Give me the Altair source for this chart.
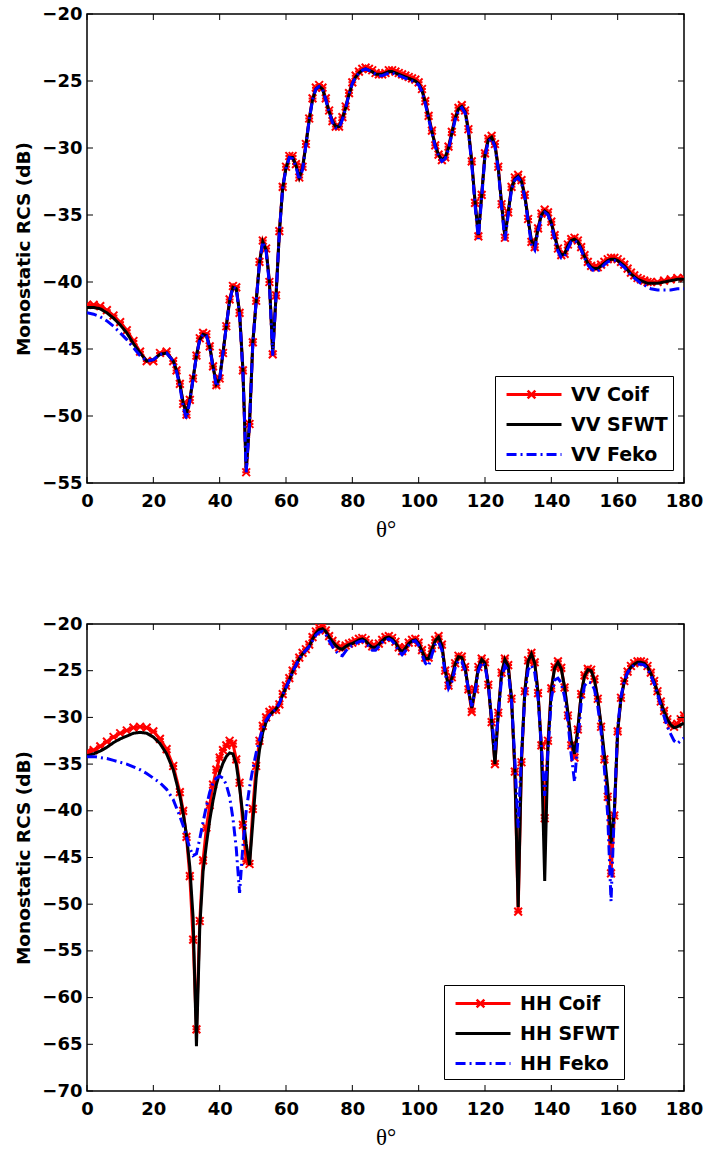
import altair as alt
import pandas as pd

# ---------------- data ----------------
X_TICKS = [0, 20, 40, 60, 80, 100, 120, 140, 160, 180]
VV_Y_TICKS = [-55, -50, -45, -40, -35, -30, -25, -20]
HH_Y_TICKS = [-70, -65, -60, -55, -50, -45, -40, -35, -30, -25, -20]

VV_NAMES = ["VV Coif", "VV SFWT", "VV Feko"]
HH_NAMES = ["HH Coif", "HH SFWT", "HH Feko"]

# sample angles (degrees)
vv_theta = list(range(0, 26, 2)) + list(range(26, 171)) + [172, 174, 176, 178, 180]
hh_theta = list(range(0, 28, 2)) + list(range(28, 181))

vv_sfwt = [-41.9, -41.9, -42.0, -42.3, -42.7, -43.2, -43.8, -44.6, -45.3, -45.9, -45.8, -45.4, -45.3,
    -45.9, -46.6, -47.6, -49.0, -49.8, -48.8, -47.2, -45.5, -44.3, -43.9,
    -44.0, -44.8, -46.3, -47.6, -47.2, -45.3, -43.3, -41.4, -40.4, -40.5,
    -42.3, -46.5, -54.0, -50.5, -44.5, -41.5, -38.6, -37.0, -37.6, -40.0,
    -45.3, -41.0, -36.3, -33.0, -31.5, -30.7, -30.7, -31.3, -32.2, -31.5,
    -29.8, -27.9, -26.4, -25.6, -25.4, -25.6, -26.4, -27.3, -28.0, -28.4,
    -28.4, -27.8, -27.0, -26.0, -25.2, -24.7, -24.4, -24.2, -24.1, -24.2,
    -24.3, -24.5, -24.5, -24.5, -24.4, -24.3, -24.3, -24.4, -24.5, -24.6,
    -24.7, -24.8, -24.9, -25.0, -25.2, -25.7, -26.6, -27.7, -28.8, -29.8,
    -30.5, -30.9, -30.7, -30.0, -28.9, -27.8, -27.1, -26.9, -27.3, -28.7,
    -31.0, -34.0, -36.5, -33.5, -30.5, -29.4, -29.2, -29.8, -31.5, -34.2,
    -36.6, -34.8, -33.0, -32.3, -32.1, -32.5, -33.6, -35.3, -36.9, -37.3,
    -36.0, -35.0, -34.7, -34.9, -35.6, -36.6, -37.5, -38.0, -37.9, -37.3,
    -36.9, -36.8, -37.0, -37.5, -38.1, -38.6, -38.9, -39.0, -39.0, -38.8,
    -38.6, -38.4, -38.3, -38.3, -38.4, -38.6, -38.8, -39.1, -39.4, -39.6,
    -39.8, -39.9, -40.0, -40.1, -40.1,
    -40.1, -40.0, -39.9, -39.8, -39.8]

vv_coif = [-41.7, -41.7, -41.8, -42.1, -42.5, -43.0, -43.6, -44.4, -45.2, -45.9, -45.9, -45.3, -45.2,
    -45.9, -46.6, -47.6, -49.1, -49.9, -48.8, -47.2, -45.5, -44.2, -43.8,
    -43.9, -44.8, -46.3, -47.7, -47.2, -45.3, -43.3, -41.3, -40.3, -40.4,
    -42.3, -46.6, -54.2, -50.6, -44.5, -41.4, -38.5, -36.9, -37.5, -40.0,
    -45.4, -41.0, -36.2, -32.9, -31.4, -30.6, -30.6, -31.2, -32.2, -31.4,
    -29.7, -27.8, -26.3, -25.5, -25.3, -25.5, -26.3, -27.2, -28.0, -28.4,
    -28.4, -27.7, -26.9, -25.9, -25.1, -24.6, -24.3, -24.1, -24.0, -24.1,
    -24.2, -24.4, -24.5, -24.5, -24.4, -24.2, -24.2, -24.3, -24.4, -24.5,
    -24.6, -24.7, -24.8, -24.9, -25.1, -25.6, -26.5, -27.6, -28.7, -29.8,
    -30.5, -30.9, -30.7, -29.9, -28.8, -27.7, -27.0, -26.8, -27.2, -28.6,
    -31.0, -34.1, -36.6, -33.5, -30.4, -29.3, -29.1, -29.7, -31.4, -34.2,
    -36.7, -34.8, -32.9, -32.2, -32.0, -32.4, -33.5, -35.3, -37.0, -37.4,
    -36.0, -34.9, -34.6, -34.8, -35.5, -36.5, -37.5, -38.0, -37.9, -37.2,
    -36.8, -36.7, -36.9, -37.4, -38.0, -38.5, -38.8, -38.9, -38.9, -38.7,
    -38.5, -38.3, -38.2, -38.2, -38.3, -38.5, -38.7, -39.0, -39.3, -39.5,
    -39.7, -39.8, -39.9, -40.0, -40.0,
    -40.0, -39.9, -39.8, -39.7, -39.7]

vv_feko = [-42.3, -42.4, -42.6, -42.9, -43.3, -43.8, -44.3, -44.9, -45.5, -45.9, -45.8, -45.4, -45.3,
    -45.9, -46.7, -47.8, -49.3, -50.2, -48.9, -47.2, -45.5, -44.3, -43.9,
    -44.0, -44.9, -46.4, -47.8, -47.3, -45.3, -43.3, -41.4, -40.4, -40.5,
    -42.4, -46.7, -54.2, -50.6, -44.6, -41.5, -38.6, -37.0, -37.7, -40.2,
    -45.5, -41.1, -36.3, -33.0, -31.5, -30.7, -30.8, -31.4, -32.4, -31.6,
    -29.8, -27.9, -26.4, -25.6, -25.4, -25.6, -26.4, -27.3, -28.1, -28.5,
    -28.5, -27.9, -27.0, -26.0, -25.2, -24.7, -24.4, -24.2, -24.1, -24.2,
    -24.3, -24.5, -24.6, -24.6, -24.5, -24.4, -24.4, -24.5, -24.6, -24.7,
    -24.8, -24.9, -25.0, -25.1, -25.3, -25.8, -26.7, -27.8, -28.9, -29.9,
    -30.6, -31.0, -30.8, -30.1, -29.0, -27.9, -27.2, -27.0, -27.4, -28.8,
    -31.2, -34.3, -36.8, -33.7, -30.6, -29.5, -29.3, -29.9, -31.6, -34.4,
    -36.9, -35.0, -33.1, -32.4, -32.2, -32.6, -33.7, -35.5, -37.2, -37.6,
    -36.2, -35.1, -34.8, -35.0, -35.7, -36.8, -37.7, -38.2, -38.1, -37.5,
    -37.0, -36.9, -37.1, -37.6, -38.2, -38.7, -39.0, -39.2, -39.2, -39.0,
    -38.7, -38.5, -38.4, -38.4, -38.5, -38.7, -38.9, -39.2, -39.5, -39.7,
    -39.9, -40.1, -40.2, -40.4, -40.5,
    -40.6, -40.6, -40.6, -40.5, -40.5]

hh_sfwt = [-34.1, -33.9, -33.6, -33.2, -32.7, -32.3, -32.0, -31.7, -31.6, -31.7, -32.1, -32.8, -33.9, -35.6,
    -38.4, -40.3, -42.6, -46.0, -51.5, -65.2, -52.5, -46.5, -43.6, -41.0,
    -38.9, -37.2, -35.9, -34.9, -34.2, -33.8, -33.9, -35.0, -37.5, -40.5,
    -43.5, -45.8, -41.2, -36.5, -33.5, -31.6, -30.5, -29.8, -29.4, -29.1,
    -28.5, -27.6, -26.8, -26.0, -25.1, -24.4, -23.7, -23.2, -22.8, -22.4,
    -21.6, -21.0, -20.6, -20.5, -20.8, -21.4, -21.9, -22.3, -22.6, -22.7,
    -22.4, -22.2, -22.1, -21.9, -21.7, -21.6, -21.8, -22.2, -22.5, -22.5,
    -22.2, -21.8, -21.5, -21.4, -21.6, -22.0, -22.6, -23.0, -22.6, -22.1,
    -21.8, -21.7, -22.1, -22.9, -23.7, -23.7, -22.7, -21.8, -21.4, -22.3,
    -25.0, -26.6, -25.8, -24.3, -23.5, -23.6, -24.7, -27.0, -29.0, -27.0,
    -24.7, -23.8, -24.2, -26.5, -30.5, -35.0, -29.5, -25.3, -23.8, -24.5,
    -28.0, -35.5, -50.3, -34.5, -27.2, -24.0, -23.2, -24.2, -27.4, -33.5,
    -47.5, -33.0, -27.0, -24.7, -24.1, -24.8, -26.8, -29.5, -32.5, -33.9,
    -31.2, -27.5, -25.6, -24.9, -25.0, -26.0, -28.0, -30.8, -34.0, -37.5,
    -43.5, -40.0, -31.5, -28.0, -26.2, -25.2, -24.6, -24.3, -24.1, -24.1,
    -24.2, -24.6, -25.3, -26.2, -27.3, -28.4, -29.4, -30.2, -30.8, -31.1,
    -31.0, -30.8, -30.6]

hh_coif = [-33.7, -33.5, -33.1, -32.6, -32.1, -31.7, -31.4, -31.1, -31.0, -31.1, -31.5, -32.3, -33.4, -35.2,
    -38.0, -40.0, -42.8, -47.0, -53.8, -63.4, -51.8, -45.3, -41.8, -39.4,
    -37.2, -35.6, -34.3, -33.5, -33.0, -32.5, -32.8, -34.5, -37.0, -41.5,
    -45.4, -45.7, -39.8, -35.2, -32.5, -30.9, -30.0, -29.4, -29.2, -29.2,
    -28.6, -27.5, -26.6, -25.8, -25.0, -24.3, -23.6, -23.1, -22.7, -22.2,
    -21.4, -20.8, -20.4, -20.3, -20.7, -21.3, -21.8, -22.2, -22.5, -22.6,
    -22.3, -22.1, -22.0, -21.8, -21.6, -21.5, -21.7, -22.1, -22.4, -22.4,
    -22.1, -21.7, -21.4, -21.3, -21.5, -21.9, -22.5, -22.9, -22.5, -22.0,
    -21.7, -21.6, -22.0, -22.8, -23.6, -23.6, -22.6, -21.7, -21.3, -22.2,
    -25.0, -26.6, -25.7, -24.2, -23.4, -23.5, -24.6, -27.0, -29.4, -27.0,
    -24.6, -23.7, -24.1, -26.5, -30.5, -35.0, -29.5, -25.2, -23.7, -24.4,
    -28.0, -35.8, -50.8, -34.8, -27.2, -23.9, -23.1, -24.1, -27.4, -33.0,
    -40.8, -32.5, -26.9, -24.6, -24.0, -24.7, -26.8, -29.8, -33.0, -34.3,
    -31.3, -27.5, -25.5, -24.8, -24.9, -25.9, -28.0, -31.0, -34.5, -38.5,
    -46.7, -40.5, -31.5, -27.9, -26.1, -25.1, -24.5, -24.2, -24.0, -24.0,
    -24.1, -24.5, -25.2, -26.1, -27.2, -28.3, -29.3, -30.2, -30.8, -31.0,
    -30.7, -30.2, -29.8]

hh_feko = [-34.2, -34.2, -34.3, -34.4, -34.6, -34.8, -35.0, -35.3, -35.6, -36.0, -36.5, -37.0, -37.7, -38.8,
    -40.6, -41.6, -42.8, -44.0, -44.8, -44.6, -43.0, -41.2, -39.5, -38.0,
    -37.0, -36.5, -36.3, -36.5, -37.2, -38.5, -40.8, -44.0, -48.8, -43.8,
    -40.0, -37.5, -35.5, -33.8, -32.4, -31.2, -30.3, -29.8, -29.4, -29.1,
    -28.5, -27.6, -26.8, -26.0, -25.1, -24.4, -23.7, -23.2, -22.8, -22.4,
    -21.8, -21.2, -20.9, -20.8, -21.1, -21.8, -22.4, -22.9, -23.3, -23.4,
    -22.9, -22.5, -22.3, -22.1, -21.9, -21.8, -22.0, -22.4, -22.8, -22.8,
    -22.4, -22.0, -21.7, -21.6, -21.8, -22.3, -22.9, -23.3, -22.9, -22.3,
    -21.9, -21.8, -22.3, -23.2, -24.2, -24.5, -23.3, -22.2, -21.9, -22.8,
    -25.3, -26.9, -26.2, -24.7, -23.9, -24.0, -25.0, -27.0, -28.8, -27.3,
    -25.0, -24.1, -24.5, -26.5, -30.0, -33.5, -29.8, -25.8, -24.5, -25.0,
    -28.2, -34.5, -41.8, -34.0, -27.8, -24.9, -24.4, -25.2, -28.0, -33.0,
    -38.4, -33.5, -28.0, -26.0, -25.8, -26.3, -27.8, -30.5, -34.0, -36.9,
    -32.5, -28.5, -26.6, -26.2, -26.3, -27.0, -28.8, -31.5, -35.5, -40.5,
    -49.7, -40.0, -31.0, -27.8, -26.1, -25.2, -24.7, -24.4, -24.3, -24.3,
    -24.4, -24.8, -25.5, -26.4, -27.5, -28.7, -29.9, -31.0, -31.8, -32.5,
    -32.8, -32.5, -32.2]

COLORS = ["#ff0000", "#000000", "#0000ff"]
DASHES = [[1, 0], [1, 0], [10, 4, 2, 4]]

W = 597
SANS = "DejaVu Sans"
SERIF = "Liberation Serif"
MARKER = "M-1,-1L1,1M-1,1L1,-1M-1,0L1,0"
LEG_SYMBOL = "M-0.58,0H4.0"


def panel(theta, coif, sfwt, feko, names, field, ydom, yticks, height, lx, ly):
    n = len(theta)
    mk = field + "_mk"
    df = pd.DataFrame({
        "theta": theta * 3,
        "rcs": coif + sfwt + feko,
        field: [names[0]] * n + [names[1]] * n + [names[2]] * n,
    })
    df[mk] = df[field]
    x = alt.X("theta:Q", scale=alt.Scale(domain=[0, 180], nice=False, zero=False),
              axis=alt.Axis(values=X_TICKS, title="θ°", titleFont=SERIF,
                            titleFontWeight="normal", titleFontSize=23,
                            labelPadding=9, titlePadding=8, format="d",
                            labelFlush=False))
    y = alt.Y("rcs:Q", scale=alt.Scale(domain=ydom, nice=False, zero=False),
              axis=alt.Axis(values=yticks, title="Monostatic RCS (dB)",
                            labelPadding=5, titlePadding=8, format="d",
                            labelFlush=False))
    legend = alt.Legend(title=None, orient="none", legendX=lx, legendY=ly,
                        symbolType=LEG_SYMBOL, symbolSize=576, symbolStrokeWidth=3,
                        labelOffset=44, labelFont=SANS, labelFontSize=19,
                        labelFontWeight="bold", labelColor="black", labelLimit=400,
                        strokeColor="black", fillColor="white", padding=5,
                        rowPadding=6, zindex=0)
    color = alt.Color(f"{field}:N", scale=alt.Scale(domain=names, range=COLORS),
                      legend=legend)
    dash = alt.StrokeDash(f"{field}:N", scale=alt.Scale(domain=names, range=DASHES),
                          legend=legend)
    # marker legend: a single red marker laid on the first legend row
    mk_legend = alt.Legend(title=None, orient="none", legendX=lx + 31, legendY=ly + 13,
                           symbolSize=60, symbolStrokeWidth=2.5,
                           symbolStrokeColor="#ff0000", symbolFillColor="transparent",
                           labelOpacity=0, labelFontSize=1, labelOffset=0,
                           padding=0, zindex=2)
    shape = alt.Shape(f"{mk}:N", scale=alt.Scale(domain=[names[0]], range=[MARKER]),
                      legend=mk_legend)
    base = alt.Chart(df)

    def line(name):
        return base.transform_filter(alt.datum[field] == name).mark_line(
            strokeWidth=3, clip=True).encode(x=x, y=y, color=color, strokeDash=dash)

    pts = base.transform_filter(alt.datum[field] == names[0]).mark_point(
        size=60, strokeWidth=2, filled=False, color="#ff0000",
        opacity=1, clip=True).encode(x=x, y=y, shape=shape)

    xt = pd.DataFrame({"theta": X_TICKS})
    yt = pd.DataFrame({"rcs": yticks})
    tick_style = dict(color="black", strokeWidth=1)
    xb = alt.Chart(xt).mark_rule(**tick_style).encode(
        x=x, y=alt.value(height), y2=alt.value(height - 6))
    xtp = alt.Chart(xt).mark_rule(**tick_style).encode(
        x=x, y=alt.value(0), y2=alt.value(6))
    yl = alt.Chart(yt).mark_rule(**tick_style).encode(
        y=y, x=alt.value(0), x2=alt.value(6))
    yr = alt.Chart(yt).mark_rule(**tick_style).encode(
        y=y, x=alt.value(W), x2=alt.value(W - 6))

    return alt.layer(line(names[0]), pts, line(names[1]), line(names[2]),
                     xb, xtp, yl, yr).properties(width=W, height=height)


top = panel(vv_theta, vv_coif, vv_sfwt, vv_feko, VV_NAMES, "vv", [-55, -20],
            VV_Y_TICKS, 469, 408, 362)
bottom = panel(hh_theta, hh_coif, hh_sfwt, hh_feko, HH_NAMES, "hh", [-70, -20],
               HH_Y_TICKS, 467, 357, 361)

chart = alt.vconcat(top, bottom, spacing=72).resolve_scale(
    color="independent", strokeDash="independent", shape="independent"
).resolve_legend(
    color="independent", strokeDash="independent", shape="independent"
).properties(
    padding={"left": 14, "top": 4, "right": 0, "bottom": 0},
    background="white",
).configure_view(
    stroke="black", strokeWidth=1.5
).configure_axis(
    grid=False, domain=False, ticks=False,
    labelFont=SANS, labelFontSize=18, labelFontWeight="bold", labelColor="black",
    titleFont=SANS, titleFontSize=18.5, titleFontWeight="bold", titleColor="black",
)

chart.save("out.html", embed_options={"renderer": "svg", "actions": False})
